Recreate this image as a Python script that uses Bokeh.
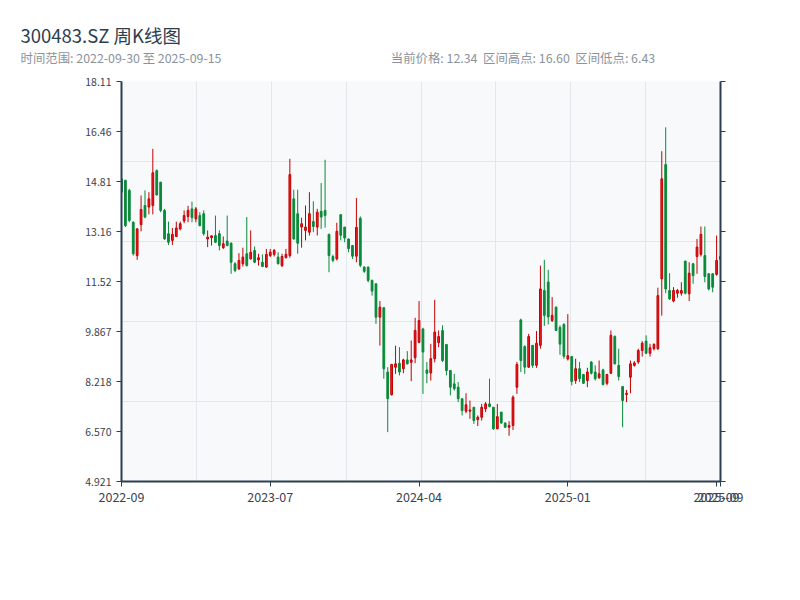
from bokeh.plotting import figure
from bokeh.models import Range1d, FixedTicker, LinearAxis, ColumnDataSource, Title
from bokeh.embed import file_html
from bokeh.resources import INLINE

# ---- data (weekly OHLC) ----
opens = [14.90, 14.85, 14.52, 13.47, 12.37, 13.39, 14.02, 13.97, 14.02, 15.17,
         14.79, 13.86, 13.09, 12.87, 13.00, 13.25, 13.51, 13.66, 13.91, 13.58,
         13.69, 13.75, 12.92, 12.96, 13.03, 13.09, 12.63, 12.85, 12.78, 12.10,
         11.93, 12.10, 12.43, 12.26, 12.54, 12.23, 12.15, 11.99, 12.37, 12.41,
         12.32, 12.04, 12.30, 12.37, 14.24, 13.75, 13.31, 13.20, 13.14, 13.49,
         13.31, 13.83, 13.86, 13.07, 12.34, 12.26, 13.72, 13.31, 12.92, 12.70,
         12.35, 13.60, 11.99, 11.99, 11.55, 11.44, 10.34, 10.65, 8.53, 7.78,
         8.69, 8.82, 8.64, 8.93, 8.85, 9.00, 9.51, 9.95, 8.60, 8.50,
         8.97, 9.50, 9.90, 9.44, 8.58, 8.14, 8.03, 7.65, 7.24, 7.24,
         7.37, 6.96, 7.04, 7.32, 7.48, 7.37, 6.66, 7.21, 6.85, 6.71,
         6.77, 8.03, 10.25, 9.37, 8.69, 9.41, 8.75, 9.41, 11.22, 11.50,
         10.23, 10.67, 10.00, 10.10, 8.96, 9.04, 8.25, 8.64, 8.45, 8.25,
         8.86, 8.53, 8.34, 8.60, 8.16, 8.49, 9.70, 8.75, 8.05, 7.79,
         8.36, 8.75, 8.86, 9.24, 9.55, 9.15, 9.30, 9.30, 11.60, 15.37,
         11.22, 10.87, 11.13, 11.13, 12.19, 11.11, 12.10, 12.34, 12.41, 12.37,
         11.77, 11.77, 11.75, 12.25]
highs = [14.93, 14.87, 14.57, 13.50, 13.28, 14.35, 14.52, 14.46, 15.89, 15.21,
         14.80, 13.91, 13.49, 13.28, 13.49, 13.49, 13.86, 14.01, 14.15, 13.97,
         13.80, 13.86, 13.20, 13.03, 13.69, 13.20, 13.00, 13.69, 12.80, 12.15,
         12.45, 12.63, 13.64, 13.20, 12.67, 12.43, 12.41, 12.59, 12.59, 12.59,
         12.48, 12.43, 12.59, 15.56, 14.54, 14.54, 13.62, 14.02, 14.46, 14.16,
         13.91, 14.76, 15.53, 13.09, 12.40, 13.45, 13.72, 13.31, 12.92, 12.72,
         14.27, 13.66, 12.02, 12.01, 11.58, 11.44, 10.87, 10.67, 8.69, 8.80,
         9.40, 9.35, 8.97, 9.22, 9.57, 10.32, 10.87, 9.99, 8.86, 9.46,
         10.91, 9.90, 10.07, 9.44, 8.60, 8.47, 8.20, 7.65, 7.83, 7.59,
         7.37, 7.10, 7.48, 7.54, 8.31, 7.37, 7.48, 7.21, 6.87, 6.91,
         7.76, 8.86, 10.29, 9.41, 9.79, 9.41, 9.88, 12.04, 12.23, 11.90,
         11.00, 10.69, 10.07, 10.14, 10.44, 9.06, 8.97, 8.86, 8.47, 8.67,
         8.89, 8.75, 8.91, 8.64, 8.47, 9.90, 9.74, 9.30, 8.05, 7.94,
         8.91, 8.89, 9.30, 9.55, 9.74, 9.46, 9.48, 11.31, 15.81, 16.60,
         11.79, 11.33, 11.27, 11.49, 12.19, 12.15, 12.12, 12.92, 13.33, 13.33,
         11.79, 11.79, 13.03, 12.54]
lows = [14.05, 13.31, 13.47, 12.37, 12.23, 13.17, 13.60, 13.73, 13.73, 14.35,
        13.80, 12.89, 12.72, 12.72, 12.98, 13.20, 13.44, 13.47, 13.47, 13.47,
        13.33, 13.03, 12.65, 12.70, 12.78, 12.54, 12.59, 12.68, 11.77, 11.82,
        11.90, 12.01, 12.01, 12.24, 12.12, 12.04, 11.99, 11.97, 12.32, 12.34,
        12.08, 11.99, 12.28, 12.30, 12.89, 12.43, 12.63, 12.87, 13.03, 13.14,
        13.03, 13.25, 13.29, 11.82, 12.15, 12.21, 12.87, 12.81, 12.48, 12.26,
        12.15, 11.99, 11.80, 11.49, 11.05, 10.12, 9.40, 8.31, 6.55, 7.76,
        8.47, 8.42, 8.49, 8.78, 8.23, 8.82, 9.48, 7.81, 8.16, 8.25,
        8.85, 9.35, 8.86, 8.42, 7.76, 7.92, 7.54, 7.10, 7.17, 6.99,
        6.82, 6.75, 6.93, 7.21, 7.37, 6.62, 6.64, 6.82, 6.69, 6.43,
        6.62, 7.81, 8.53, 8.47, 8.67, 8.67, 8.67, 9.30, 10.05, 10.10,
        10.18, 9.88, 9.10, 8.97, 8.91, 8.09, 8.14, 8.20, 8.14, 8.03,
        8.45, 8.25, 8.31, 8.09, 8.09, 8.47, 8.78, 8.25, 6.71, 7.54,
        7.83, 8.71, 8.80, 9.04, 9.13, 9.04, 9.24, 9.26, 10.39, 11.13,
        10.91, 10.83, 10.98, 11.05, 11.09, 10.87, 11.44, 11.77, 12.34, 11.49,
        11.22, 11.16, 11.71, 12.10]
closes = [14.46, 13.36, 13.53, 12.43, 13.25, 13.89, 13.64, 14.24, 15.10, 14.37,
          13.86, 12.92, 12.81, 13.07, 13.28, 13.42, 13.69, 13.86, 13.62, 13.91,
          13.36, 13.09, 12.98, 13.02, 12.81, 12.70, 12.76, 12.70, 12.15, 11.88,
          12.21, 12.32, 12.04, 12.48, 12.15, 12.30, 12.01, 12.41, 12.48, 12.54,
          12.10, 12.34, 12.41, 15.04, 12.92, 12.78, 13.42, 13.31, 13.75, 13.33,
          13.80, 13.64, 13.69, 12.37, 12.21, 13.17, 13.04, 12.95, 12.60, 12.35,
          13.30, 12.05, 11.85, 11.55, 11.20, 10.34, 10.67, 8.64, 7.65, 8.78,
          8.80, 8.53, 8.93, 8.80, 8.93, 9.90, 10.23, 9.19, 8.49, 8.97,
          9.85, 9.70, 8.91, 8.58, 8.03, 7.98, 7.65, 7.26, 7.45, 7.28,
          6.93, 7.04, 7.37, 7.48, 7.39, 6.66, 7.06, 6.85, 6.71, 6.77,
          7.70, 8.78, 8.91, 8.69, 9.70, 8.75, 9.48, 11.27, 10.40, 10.35,
          10.40, 9.90, 9.45, 9.05, 9.07, 8.22, 8.64, 8.31, 8.16, 8.53,
          8.49, 8.31, 8.47, 8.12, 8.45, 9.74, 8.80, 8.38, 7.59, 7.83,
          8.80, 8.83, 9.24, 9.48, 9.15, 9.33, 9.44, 11.05, 14.90, 11.27,
          10.94, 11.22, 11.22, 11.22, 11.13, 11.79, 11.71, 12.65, 13.07, 11.68,
          11.27, 11.33, 12.21, 12.34]

y_tick_labels = ["4.921", "6.570", "8.218", "9.867", "11.52", "13.16", "14.81", "16.46", "18.11"]
x_tick_index = [0, 38, 76, 114, 152, 153]
x_tick_labels = ["2022-09", "2023-07", "2024-04", "2025-01", "2025-09", "2025-09"]

title_text = "300483.SZ 周K线图"
range_text = "时间范围: 2022-09-30 至 2025-09-15"
stats_parts = ["当前价格: 12.34", "区间高点: 16.60", "区间低点: 6.43"]

# ---- build ----
NB = "\u00a0"
stats_text = (NB * 2).join(stats_parts)
subtitle_text = range_text + NB * 61 + stats_text

n = len(opens)
ymin = float(y_tick_labels[0])
ymax = float(y_tick_labels[-1])
y_ticks = [ymin + k * (ymax - ymin) / 8 for k in range(9)]

up = dict(x=[], top=[], bottom=[], high=[], low=[])
dn = dict(x=[], top=[], bottom=[], high=[], low=[])
for i in range(n):
    o, h, l, c = opens[i], highs[i], lows[i], closes[i]
    d = up if c >= o else dn
    d["x"].append(i)
    d["top"].append(max(o, c))
    d["bottom"].append(min(o, c))
    d["high"].append(h)
    d["low"].append(l)

FONT = "Noto Sans CJK SC"
AXIS_COLOR = "#2c3e50"
GREEN = "#0a8a3a"
RED_FILL = "#ee1c24"
RED_LINE = "#c40000"
LEFT = 121

p = figure(frame_width=599, frame_height=400, output_backend="svg", toolbar_location=None,
           x_range=Range1d(0, n - 1), y_range=Range1d(ymin, ymax),
           min_border_left=LEFT, min_border_right=64, min_border_top=81, min_border_bottom=79,
           background_fill_color="#f7f9fb", border_fill_color="white")
p.outline_line_color = None

# titles
p.title.text = title_text
p.title.align = "left"
p.title.offset = 20 - LEFT
p.title.text_font = FONT
p.title.text_font_size = "18.5px"
p.title.text_font_style = "normal"
p.title.text_color = "#2c3e50"
p.title.standoff = -22
p.add_layout(Title(text=subtitle_text, align="left", offset=20 - LEFT, text_font=FONT,
                   text_font_size="12.4px", text_font_style="normal", text_color="#8a939c",
                   vertical_align="top", standoff=25), "above")

# grid
p.xgrid.ticker = FixedTicker(ticks=[k * (n - 1) / 8 for k in range(1, 8)])
p.ygrid.ticker = FixedTicker(ticks=[ymin + k * (ymax - ymin) / 5 for k in range(1, 5)])
p.grid.grid_line_color = "#e3e6ea"
p.grid.grid_line_width = 1

def style_axis(ax, size):
    ax.axis_line_color = AXIS_COLOR
    ax.axis_line_width = 2
    ax.major_tick_line_color = AXIS_COLOR
    ax.major_tick_line_width = 1
    ax.major_tick_out = 5
    ax.major_tick_in = 0
    ax.minor_tick_line_color = None
    ax.major_label_text_font = FONT
    ax.major_label_text_font_size = size
    ax.major_label_text_color = "#3a4450"

p.xaxis.ticker = FixedTicker(ticks=x_tick_index)
p.xaxis.major_label_overrides = {t: s for t, s in zip(x_tick_index, x_tick_labels)}
p.yaxis.ticker = FixedTicker(ticks=y_ticks)
p.yaxis.major_label_overrides = {t: s for t, s in zip(y_ticks, y_tick_labels)}
style_axis(p.xaxis[0], "12.5px")
style_axis(p.yaxis[0], "10.5px")

right = LinearAxis(ticker=FixedTicker(ticks=y_ticks))
style_axis(right, "0px")
right.major_label_text_color = None
p.add_layout(right, "right")

# candles
src_dn = ColumnDataSource(dn)
src_up = ColumnDataSource(up)
p.segment(x0="x", y0="low", x1="x", y1="high", source=src_dn, line_color=GREEN, line_width=1)
p.vbar(x="x", width=0.45, top="top", bottom="bottom", source=src_dn,
       fill_color=GREEN, line_color=GREEN, line_width=1)
p.segment(x0="x", y0="low", x1="x", y1="high", source=src_up, line_color=RED_LINE, line_width=1)
p.vbar(x="x", width=0.45, top="top", bottom="bottom", source=src_up,
       fill_color=RED_FILL, line_color=RED_LINE, line_width=1)

open("out.html", "w").write(file_html(p, INLINE))
